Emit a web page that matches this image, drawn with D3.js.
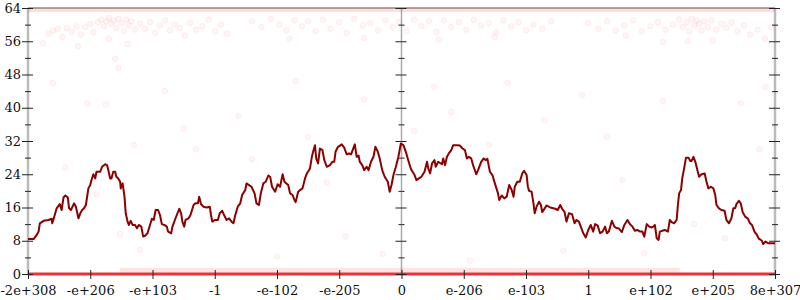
<!DOCTYPE html>
<html>
<head>
<meta charset="utf-8">
<script src="https://cdn.jsdelivr.net/npm/d3@7"></script>
<style>
  body { margin: 0; background: #fff; }
  svg { display: block; }
  text { font-family: "DejaVu Serif", serif; }
</style>
</head>
<body>
<div id="chart"></div>
<script>
// x positions are in "bit order" units: -600 .. 600, one label every 100
var xTickValues = [-600, -500, -400, -300, -200, -100, 0, 100, 200, 300, 400, 500, 600];
var xTickLabels = ["-2e+308", "-e+206", "-e+103", "-1", "-e-102", "-e-205", "0",
                   "e-206", "e-103", "1", "e+102", "e+205", "8e+307"];
var yMajor = [0, 8, 16, 24, 32, 40, 48, 56, 64];
var yMinor = [4, 12, 20, 28, 36, 44, 52, 60];

// running value (dark line)
var lineX = [-600, -591, -586, -583, -581, -575, -567, -562, -561, -557, -554, -549, -546, -543, -540, -536, -534, -531,
  -526, -523, -519, -516, -513, -510, -507, -503, -500, -498, -495, -492, -490, -484, -481, -476, -473, -471, -468,
  -466, -463, -460, -458, -455, -452, -451, -448, -445, -443, -440, -438, -435, -432, -428, -425, -422, -418, -415,
  -412, -408, -404, -401, -398, -395, -391, -388, -385, -381, -377, -375, -370, -368, -365, -361, -357, -354, -352,
  -349, -347, -342, -339, -334, -331, -327, -325, -322, -318, -313, -308, -306, -304, -300, -295, -292, -288, -285,
  -281, -277, -273, -270, -267, -263, -259, -256, -251, -249, -245, -241, -236, -233, -229, -226, -222, -218, -214,
  -211, -208, -203, -199, -195, -191, -188, -185, -182, -179, -175, -172, -170, -166, -163, -159, -155, -152, -147,
  -144, -142, -139, -137, -134, -131, -127, -124, -120, -115, -111, -108, -106, -102, -96, -92, -88, -84, -81, -77,
  -75, -72, -69, -67, -63, -60, -56, -53, -49, -45, -42, -38, -35, -31, -27, -22, -19, -16, -13, -9, -5, -1, 3, 7,
  10, 14, 16, 21, 24, 28, 32, 37, 41, 43, 46, 49, 53, 55, 59, 65, 67, 70, 73, 76, 80, 83, 89, 94, 98, 102, 105, 108,
  112, 115, 120, 123, 128, 132, 135, 138, 142, 146, 150, 155, 157, 161, 165, 169, 173, 177, 180, 182, 186, 190, 194,
  197, 201, 203, 205, 209, 212, 214, 217, 221, 224, 226, 230, 233, 239, 247, 251, 255, 258, 262, 265, 269, 274, 278,
  281, 285, 288, 292, 296, 300, 304, 308, 311, 315, 319, 323, 327, 330, 333, 338, 342, 346, 349, 354, 358, 363, 367,
  371, 375, 379, 383, 387, 390, 394, 398, 401, 405, 407, 410, 413, 415, 419, 423, 428, 431, 434, 438, 442, 444, 446,
  449, 451, 454, 457, 461, 464, 466, 469, 472, 474, 478, 482, 487, 490, 493, 497, 501, 504, 506, 510, 514, 519, 522,
  526, 530, 533, 536, 538, 542, 545, 548, 552, 556, 560, 563, 567, 571, 574, 579, 581, 585, 589, 600];
var lineY = [8.4, 8.4, 9.4, 10.2, 12.2, 12.8, 13.0, 13.3, 12.2, 14.2, 15.8, 16.8, 15.4, 18.4, 18.9, 18.4, 15.8, 15.4,
  17.0, 16.2, 13.4, 14.6, 15.4, 15.8, 16.6, 20.6, 21.4, 22.6, 24.0, 23.0, 24.6, 24.6, 25.8, 26.4, 26.2, 25.0, 23.0,
  23.0, 24.6, 24.6, 23.4, 23.0, 22.2, 20.6, 21.8, 18.6, 14.6, 12.6, 11.8, 12.8, 11.8, 11.8, 11.0, 11.8, 11.4, 9.0,
  9.2, 9.8, 11.8, 13.3, 13.0, 15.4, 15.4, 14.2, 12.0, 11.8, 11.4, 10.2, 9.8, 11.4, 12.6, 14.2, 15.7, 14.6, 12.6,
  11.4, 13.0, 13.4, 14.2, 16.6, 17.0, 17.0, 18.6, 16.8, 16.2, 16.0, 16.2, 14.2, 12.6, 13.0, 13.0, 14.6, 15.2, 14.2,
  13.0, 13.4, 12.6, 12.2, 14.2, 16.2, 17.0, 19.0, 20.2, 21.8, 21.4, 21.0, 19.4, 17.0, 16.6, 19.4, 21.8, 22.2, 23.7,
  23.4, 21.0, 19.8, 21.6, 21.0, 24.0, 22.2, 21.8, 21.4, 19.4, 19.0, 17.8, 17.3, 19.8, 20.2, 20.6, 23.0, 24.2, 25.4,
  28.2, 29.4, 31.0, 27.8, 26.6, 30.2, 29.8, 27.4, 25.8, 26.2, 27.0, 27.0, 29.4, 30.6, 31.2, 30.4, 28.8, 29.0, 28.8, 30.4,
  31.2, 28.2, 28.5, 27.0, 26.2, 25.0, 25.8, 25.0, 27.0, 28.2, 30.6, 29.4, 27.8, 25.0, 23.4, 22.2, 19.8, 21.4, 23.8,
  25.8, 28.2, 31.4, 31.0, 29.4, 27.8, 25.8, 25.0, 23.8, 22.6, 23.0, 23.4, 24.6, 27.0, 25.4, 24.2, 26.6, 27.4, 25.8,
  27.0, 26.4, 27.8, 26.2, 28.2, 29.0, 29.8, 31.0, 31.0, 30.9, 30.2, 29.8, 27.8, 28.2, 27.8, 26.2, 24.0, 25.0, 27.0,
  27.8, 27.4, 27.7, 24.6, 23.8, 21.8, 19.4, 17.8, 18.9, 18.2, 18.6, 21.4, 20.2, 18.6, 21.0, 22.2, 22.2, 24.2, 24.8,
  23.8, 21.0, 20.0, 19.8, 17.0, 14.6, 16.2, 17.4, 16.6, 14.9, 15.8, 16.5, 16.0, 15.7, 15.4, 16.6, 15.7, 14.9, 12.6,
  14.6, 14.4, 12.2, 13.0, 12.6, 11.4, 9.8, 8.8, 10.6, 11.8, 10.2, 12.0, 11.7, 9.8, 10.2, 11.4, 9.8, 10.2, 12.8, 11.4,
  11.0, 11.0, 10.1, 11.8, 13.0, 12.0, 11.4, 10.4, 10.6, 10.2, 10.2, 9.0, 12.0, 11.4, 11.2, 11.4, 11.8, 8.6, 8.2,
  10.2, 10.4, 10.6, 10.2, 13.0, 12.5, 12.2, 13.0, 16.6, 19.4, 20.2, 23.0, 25.4, 28.0, 28.0, 27.2, 27.2, 28.2, 27.0,
  25.8, 23.4, 24.0, 24.2, 22.2, 20.6, 21.0, 20.6, 19.0, 16.6, 15.8, 15.4, 15.2, 13.0, 12.2, 13.4, 15.8, 15.8, 16.8,
  17.6, 17.0, 14.9, 13.8, 13.4, 12.2, 11.8, 10.2, 9.4, 8.5, 8.0, 7.2, 7.8, 7.4, 7.4];

// individual samples (faint points)
var pointX = [-576, -567, -560, -552, -545, -538, -530, -522, -515, -508, -500, -495, -488, -482, -478, -474, -470,
  -466, -462, -458, -455, -450, -446, -442, -438, -434, -428, -420, -412, -404, -396, -388, -380, -372, -364, -356,
  -348, -340, -330, -320, -310, -300, -290, -280, -470, -440, -520, -460, -455,
  -240, -225, -210, -196, -185, -172, -160, -150, -138, -126, -114, -100, -88, -76, -62, -50, -38, -26, -14, -4, 8,
  20, 32, 44, 56, 68, 80, 92, 104, 116, 128, 140, 152, 164, 176, 188, 200, 212, 226, 240, -180, -60, 60, 150,
  300, 316, 330, 344, 358, 372, 386, 400, 412, 424, 436, 446, 452, 458, 462, 466, 470, 474, 478, 482, 486, 492, 498,
  506, 514, 522, 530, 540, 550, 560, 572, 584, 594, 500, 460, 420, 360,
  -560, -540, -505, -490, -475, -452, -430, -420, -380, -350, -330, -300, -262, -240, -200, -170, -150, -120, -90,
  -60, -30, 20, 52, 80, 110, 140, 170, 230, 260, 290, 330, 355, 390, 420, 470, 520, 545, 575, 585];
var pointY = [55.5, 57.8, 58.6, 59.0, 57.0, 59.2, 58.3, 59.6, 57.6, 59.4, 60.2, 58.2, 60.6, 61.2, 59.6, 60.8, 61.6,
  60.2, 61.0, 59.2, 61.4, 60.4, 58.4, 61.2, 59.8, 60.8, 58.8, 60.2, 59.0, 60.6, 58.0, 59.8, 61.0, 58.6, 60.0, 59.2,
  57.4, 60.4, 58.8, 59.6, 61.2, 58.4, 60.0, 57.8, 56.6, 55.4, 54.8, 51.8, 49.6,
  60.8, 59.4, 61.4, 60.0, 58.6, 61.0, 59.6, 60.8, 58.4, 61.2, 59.0, 60.6, 58.0, 61.4, 59.8, 60.4, 58.6, 61.0, 59.4,
  60.6, 58.4, 61.2, 59.6, 60.8, 58.2, 61.0, 59.4, 60.6, 58.8, 61.2, 59.8, 60.4, 58.2, 61.0, 59.6, 60.6, 58.6, 60.0,
  59.0, 60.8, 56.6, 56.8, 56.4, 57.0,
  60.4, 59.0, 60.8, 58.6, 59.8, 61.0, 58.4, 59.6, 60.6, 58.8, 60.0, 61.2, 59.4, 60.6, 58.4, 61.4, 59.8, 61.0, 60.2,
  58.6, 60.8, 59.4, 61.0, 58.8, 60.2, 59.2, 60.6, 58.4, 59.8, 57.6, 58.8, 56.6, 59.4, 56.2, 56.0, 55.8, 57.4,
  46.0, 25.6, 41.0, 19.2, 40.8, 9.6, 31.0, 5.8, 44.0, 35.0, 30.0, 13.0, 38.0, 27.6, 4.2, 46.4, 33.0, 22.0, 9.0,
  42.0, 4.8, 34.4, 45.0, 39.0, 3.2, 31.0, 46.0, 37.0, 5.6, 43.0, 33.0, 22.6, 5.0, 41.6, 12.0, 8.6, 41.0, 30.0, 45.0];

// dense rows of samples that merge into bands
var bandFrom = [-600, -452, -600];
var bandTo = [600, 447, 600];
var bandValue = [63.5, 0.9, 0];

var width = 800, height = 300;
var svg = d3.select("#chart").append("svg")
    .attr("width", width)
    .attr("height", height);

var x = d3.scaleLinear().domain([-600, 600]).range([28, 775]);
var y = d3.scaleLinear().domain([0, 64]).range([274, 8]);

// frame lines
svg.append("line")
    .attr("x1", x(-600)).attr("x2", x(600))
    .attr("y1", y(64)).attr("y2", y(64))
    .attr("stroke", "#a8a8a8").attr("stroke-width", 2);

[-600, 0, 600].forEach(function(v) {
    svg.append("line")
        .attr("x1", x(v)).attr("x2", x(v))
        .attr("y1", y(0)).attr("y2", y(64))
        .attr("stroke", v == 0 ? "#aaa" : "#bbb")
        .attr("stroke-width", v == 0 ? 1.5 : 2.5);
});

// bands
svg.append("line")
    .attr("x1", x(bandFrom[0])).attr("x2", x(bandTo[0]))
    .attr("y1", y(bandValue[0])).attr("y2", y(bandValue[0]))
    .attr("stroke", "#ff2020").attr("stroke-opacity", 0.15).attr("stroke-width", 4);
svg.append("line")
    .attr("x1", x(bandFrom[1])).attr("x2", x(bandTo[1]))
    .attr("y1", y(bandValue[1])).attr("y2", y(bandValue[1]))
    .attr("stroke", "#ff2020").attr("stroke-opacity", 0.12).attr("stroke-width", 5);

// points
svg.append("g").selectAll("circle")
    .data(pointX)
    .enter().append("circle")
    .attr("cx", function(d) { return x(d); })
    .attr("cy", function(d, i) { return y(pointY[i]); })
    .attr("r", 2.8)
    .attr("fill", "#ff0000").attr("fill-opacity", 0.04)
    .attr("stroke", "#ff0000").attr("stroke-opacity", 0.06);

svg.append("line")
    .attr("x1", x(bandFrom[2])).attr("x2", x(bandTo[2]))
    .attr("y1", y(bandValue[2])).attr("y2", y(bandValue[2]))
    .attr("stroke", "#e3353a").attr("stroke-width", 3);

// y axes: major + minor ticks crossing each vertical line
function yTicks(xpos, withLabels) {
    var g = svg.append("g").attr("transform", "translate(" + x(xpos) + ",0)");
    g.append("g").call(d3.axisLeft(y).tickValues(yMajor).tickSize(6).tickPadding(1)
        .tickFormat(withLabels ? d3.format("d") : ""));
    g.append("g").call(d3.axisRight(y).tickValues(yMajor).tickSize(5).tickFormat(""));
    g.append("g").call(d3.axisLeft(y).tickValues(yMinor).tickSize(3).tickFormat(""));
    g.append("g").call(d3.axisRight(y).tickValues(yMinor).tickSize(3).tickFormat(""));
    g.selectAll(".domain").remove();
    g.selectAll(".tick line").attr("stroke", "#222");
    g.selectAll("text").attr("font-family", "DejaVu Serif").attr("font-size", 13).attr("fill", "#111");
}
yTicks(-600, true);
yTicks(0, false);
yTicks(600, false);

// x axis
var xg = svg.append("g").attr("transform", "translate(0," + y(0) + ")");
xg.append("g").call(d3.axisBottom(x).tickValues(xTickValues).tickSize(5).tickPadding(7)
    .tickFormat(function(d, i) { return xTickLabels[i]; }));
xg.append("g").call(d3.axisTop(x).tickValues(xTickValues).tickSize(4).tickFormat(""));
xg.selectAll(".domain").remove();
xg.selectAll(".tick line").attr("stroke", "#222");
xg.selectAll("text").attr("font-family", "DejaVu Serif").attr("font-size", 13).attr("fill", "#111");

// running line
var valueLine = d3.line()
    .x(function(d) { return x(d); })
    .y(function(d, i) { return y(lineY[i]); });

svg.append("path")
    .datum(lineX)
    .attr("d", valueLine)
    .attr("fill", "none")
    .attr("stroke", "#8b0000")
    .attr("stroke-width", 2)
    .attr("stroke-linejoin", "round");
</script>
</body>
</html>
